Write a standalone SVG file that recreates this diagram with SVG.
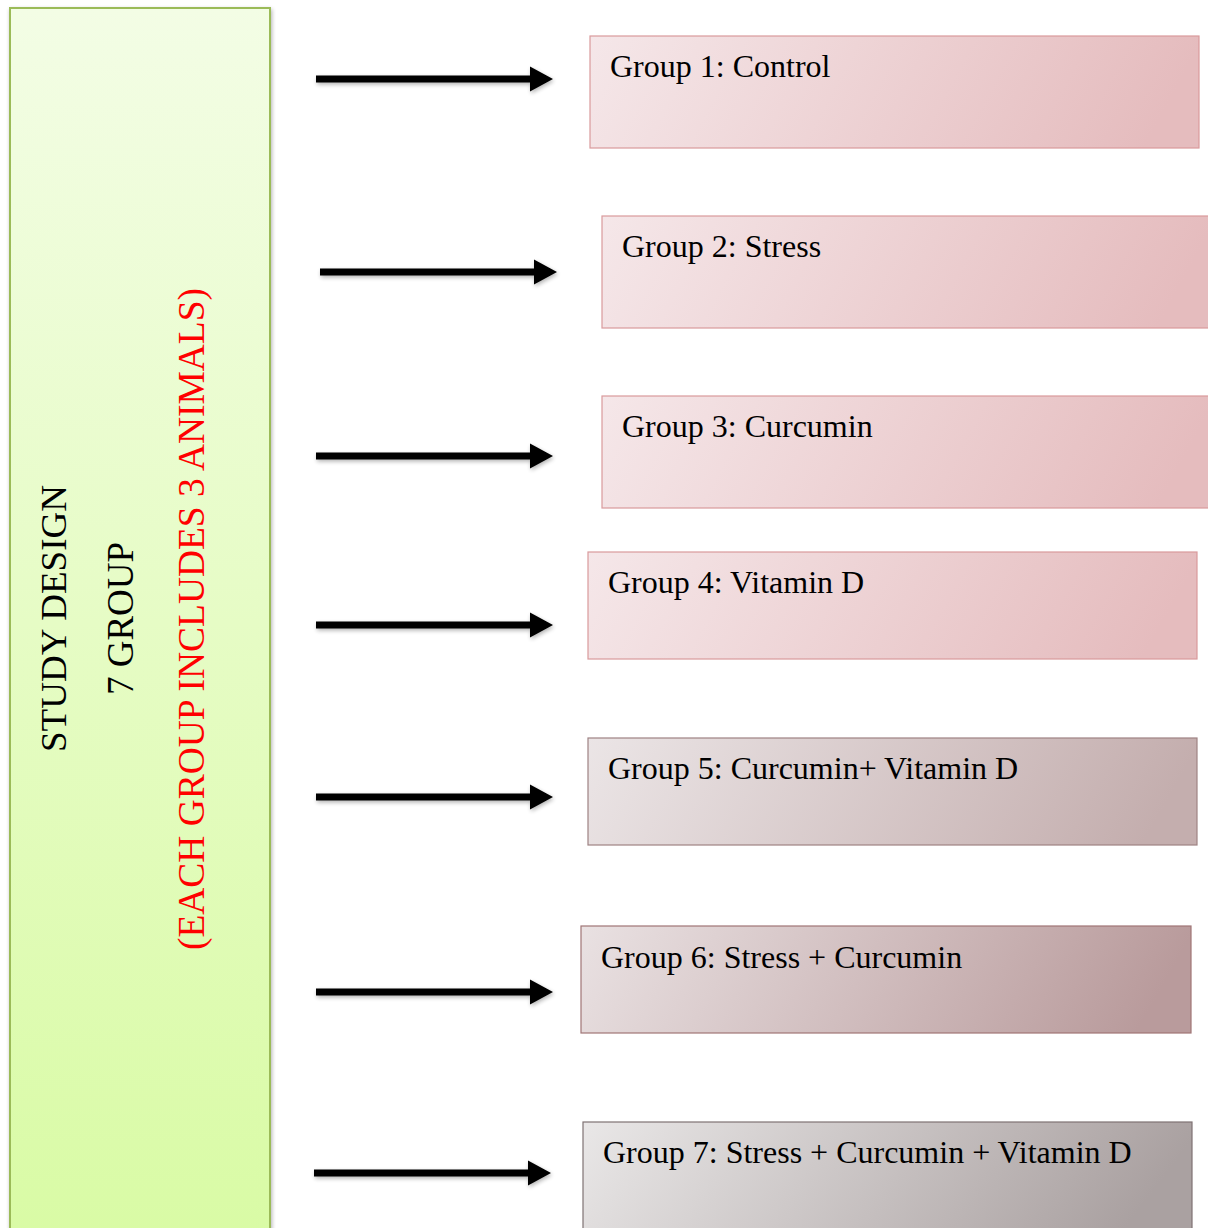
<svg xmlns="http://www.w3.org/2000/svg" xmlns:xlink="http://www.w3.org/1999/xlink" width="1208" height="1228" viewBox="0 0 1208 1228">
  <style>
    .lbl { font-family: "Liberation Serif", "Times New Roman", serif; font-size: 32px; fill: #000; }
    .vt { font-family: "Liberation Serif", "Times New Roman", serif; text-anchor: middle; }
    .arrow { fill: #000; }
  </style>
  <defs>
    <linearGradient id="gGreen" x1="0" y1="0" x2="0" y2="1">
      <stop offset="0" stop-color="#f3fde5"/>
      <stop offset="1" stop-color="#d9fba5"/>
    </linearGradient>
    <linearGradient id="gPink" x1="0" y1="0" x2="1" y2="0.1">
      <stop offset="0" stop-color="#f5e7e9"/>
      <stop offset="1" stop-color="#e5bcbe"/>
    </linearGradient>
    <linearGradient id="g5" x1="0" y1="0" x2="1" y2="0.1">
      <stop offset="0" stop-color="#ebe5e6"/>
      <stop offset="1" stop-color="#c4aeae"/>
    </linearGradient>
    <linearGradient id="g6" x1="0" y1="0" x2="1" y2="0.1">
      <stop offset="0" stop-color="#e9e1e2"/>
      <stop offset="1" stop-color="#b99b9c"/>
    </linearGradient>
    <linearGradient id="g7" x1="0" y1="0" x2="1" y2="0.15">
      <stop offset="0" stop-color="#e9e7e7"/>
      <stop offset="1" stop-color="#aaa1a1"/>
    </linearGradient>
    <filter id="shadow" x="-5%" y="-5%" width="115%" height="115%">
      <feGaussianBlur in="SourceAlpha" stdDeviation="2"/>
      <feOffset dx="1" dy="2" result="b"/>
      <feComponentTransfer><feFuncA type="linear" slope="0.3"/></feComponentTransfer>
      <feMerge><feMergeNode/><feMergeNode in="SourceGraphic"/></feMerge>
    </filter>
    <path id="arr" d="M0,-3.5 H214 V-12.5 L237,0 L214,12.5 V3.5 H0 Z"/>
  </defs>

  <rect width="1208" height="1228" fill="#ffffff"/>

  <g id="study-design">
    <rect x="10" y="8" width="260" height="1230" fill="url(#gGreen)" stroke="#9bbb59" stroke-width="2" filter="url(#shadow)"/>
    <text class="vt" transform="translate(66,618.5) rotate(-90)" font-size="35" fill="#000" textLength="267" lengthAdjust="spacingAndGlyphs">STUDY DESIGN</text>
    <text class="vt" transform="translate(133,618.5) rotate(-90)" font-size="37" fill="#000" textLength="153" lengthAdjust="spacingAndGlyphs">7 GROUP</text>
    <text class="vt" transform="translate(204,619) rotate(-90)" font-size="38" fill="#ff0000" textLength="662" lengthAdjust="spacingAndGlyphs">(EACH GROUP INCLUDES 3 ANIMALS)</text>
  </g>

  <g id="connectors" class="arrow" filter="url(#shadow)">
    <use xlink:href="#arr" x="316" y="79"/>
    <use xlink:href="#arr" x="320" y="272"/>
    <use xlink:href="#arr" x="316" y="456"/>
    <use xlink:href="#arr" x="316" y="625"/>
    <use xlink:href="#arr" x="316" y="797"/>
    <use xlink:href="#arr" x="316" y="992"/>
    <use xlink:href="#arr" x="314" y="1173"/>
  </g>

  <g id="group1">
    <rect x="590" y="36" width="609" height="112" fill="url(#gPink)" stroke="#d99a9c" stroke-width="1.2"/>
    <text class="lbl" x="610" y="77">Group 1: Control</text>
  </g>
  <g id="group2">
    <rect x="602" y="216" width="610" height="112" fill="url(#gPink)" stroke="#d99a9c" stroke-width="1.2"/>
    <text class="lbl" x="622" y="257">Group 2: Stress</text>
  </g>
  <g id="group3">
    <rect x="602" y="396" width="610" height="112" fill="url(#gPink)" stroke="#d99a9c" stroke-width="1.2"/>
    <text class="lbl" x="622" y="437">Group 3: Curcumin</text>
  </g>
  <g id="group4">
    <rect x="588" y="552" width="609" height="107" fill="url(#gPink)" stroke="#d99a9c" stroke-width="1.2"/>
    <text class="lbl" x="608" y="593">Group 4: Vitamin D</text>
  </g>
  <g id="group5">
    <rect x="588" y="738" width="609" height="107" fill="url(#g5)" stroke="#9e8283" stroke-width="1.2"/>
    <text class="lbl" x="608" y="779">Group 5: Curcumin+ Vitamin D</text>
  </g>
  <g id="group6">
    <rect x="581" y="926" width="610" height="107" fill="url(#g6)" stroke="#a07576" stroke-width="1.2"/>
    <text class="lbl" x="601" y="968">Group 6: Stress + Curcumin</text>
  </g>
  <g id="group7">
    <rect x="583" y="1122" width="609" height="120" fill="url(#g7)" stroke="#7f7273" stroke-width="1.2"/>
    <text class="lbl" x="603" y="1163">Group 7: Stress + Curcumin + Vitamin D</text>
  </g>
</svg>
